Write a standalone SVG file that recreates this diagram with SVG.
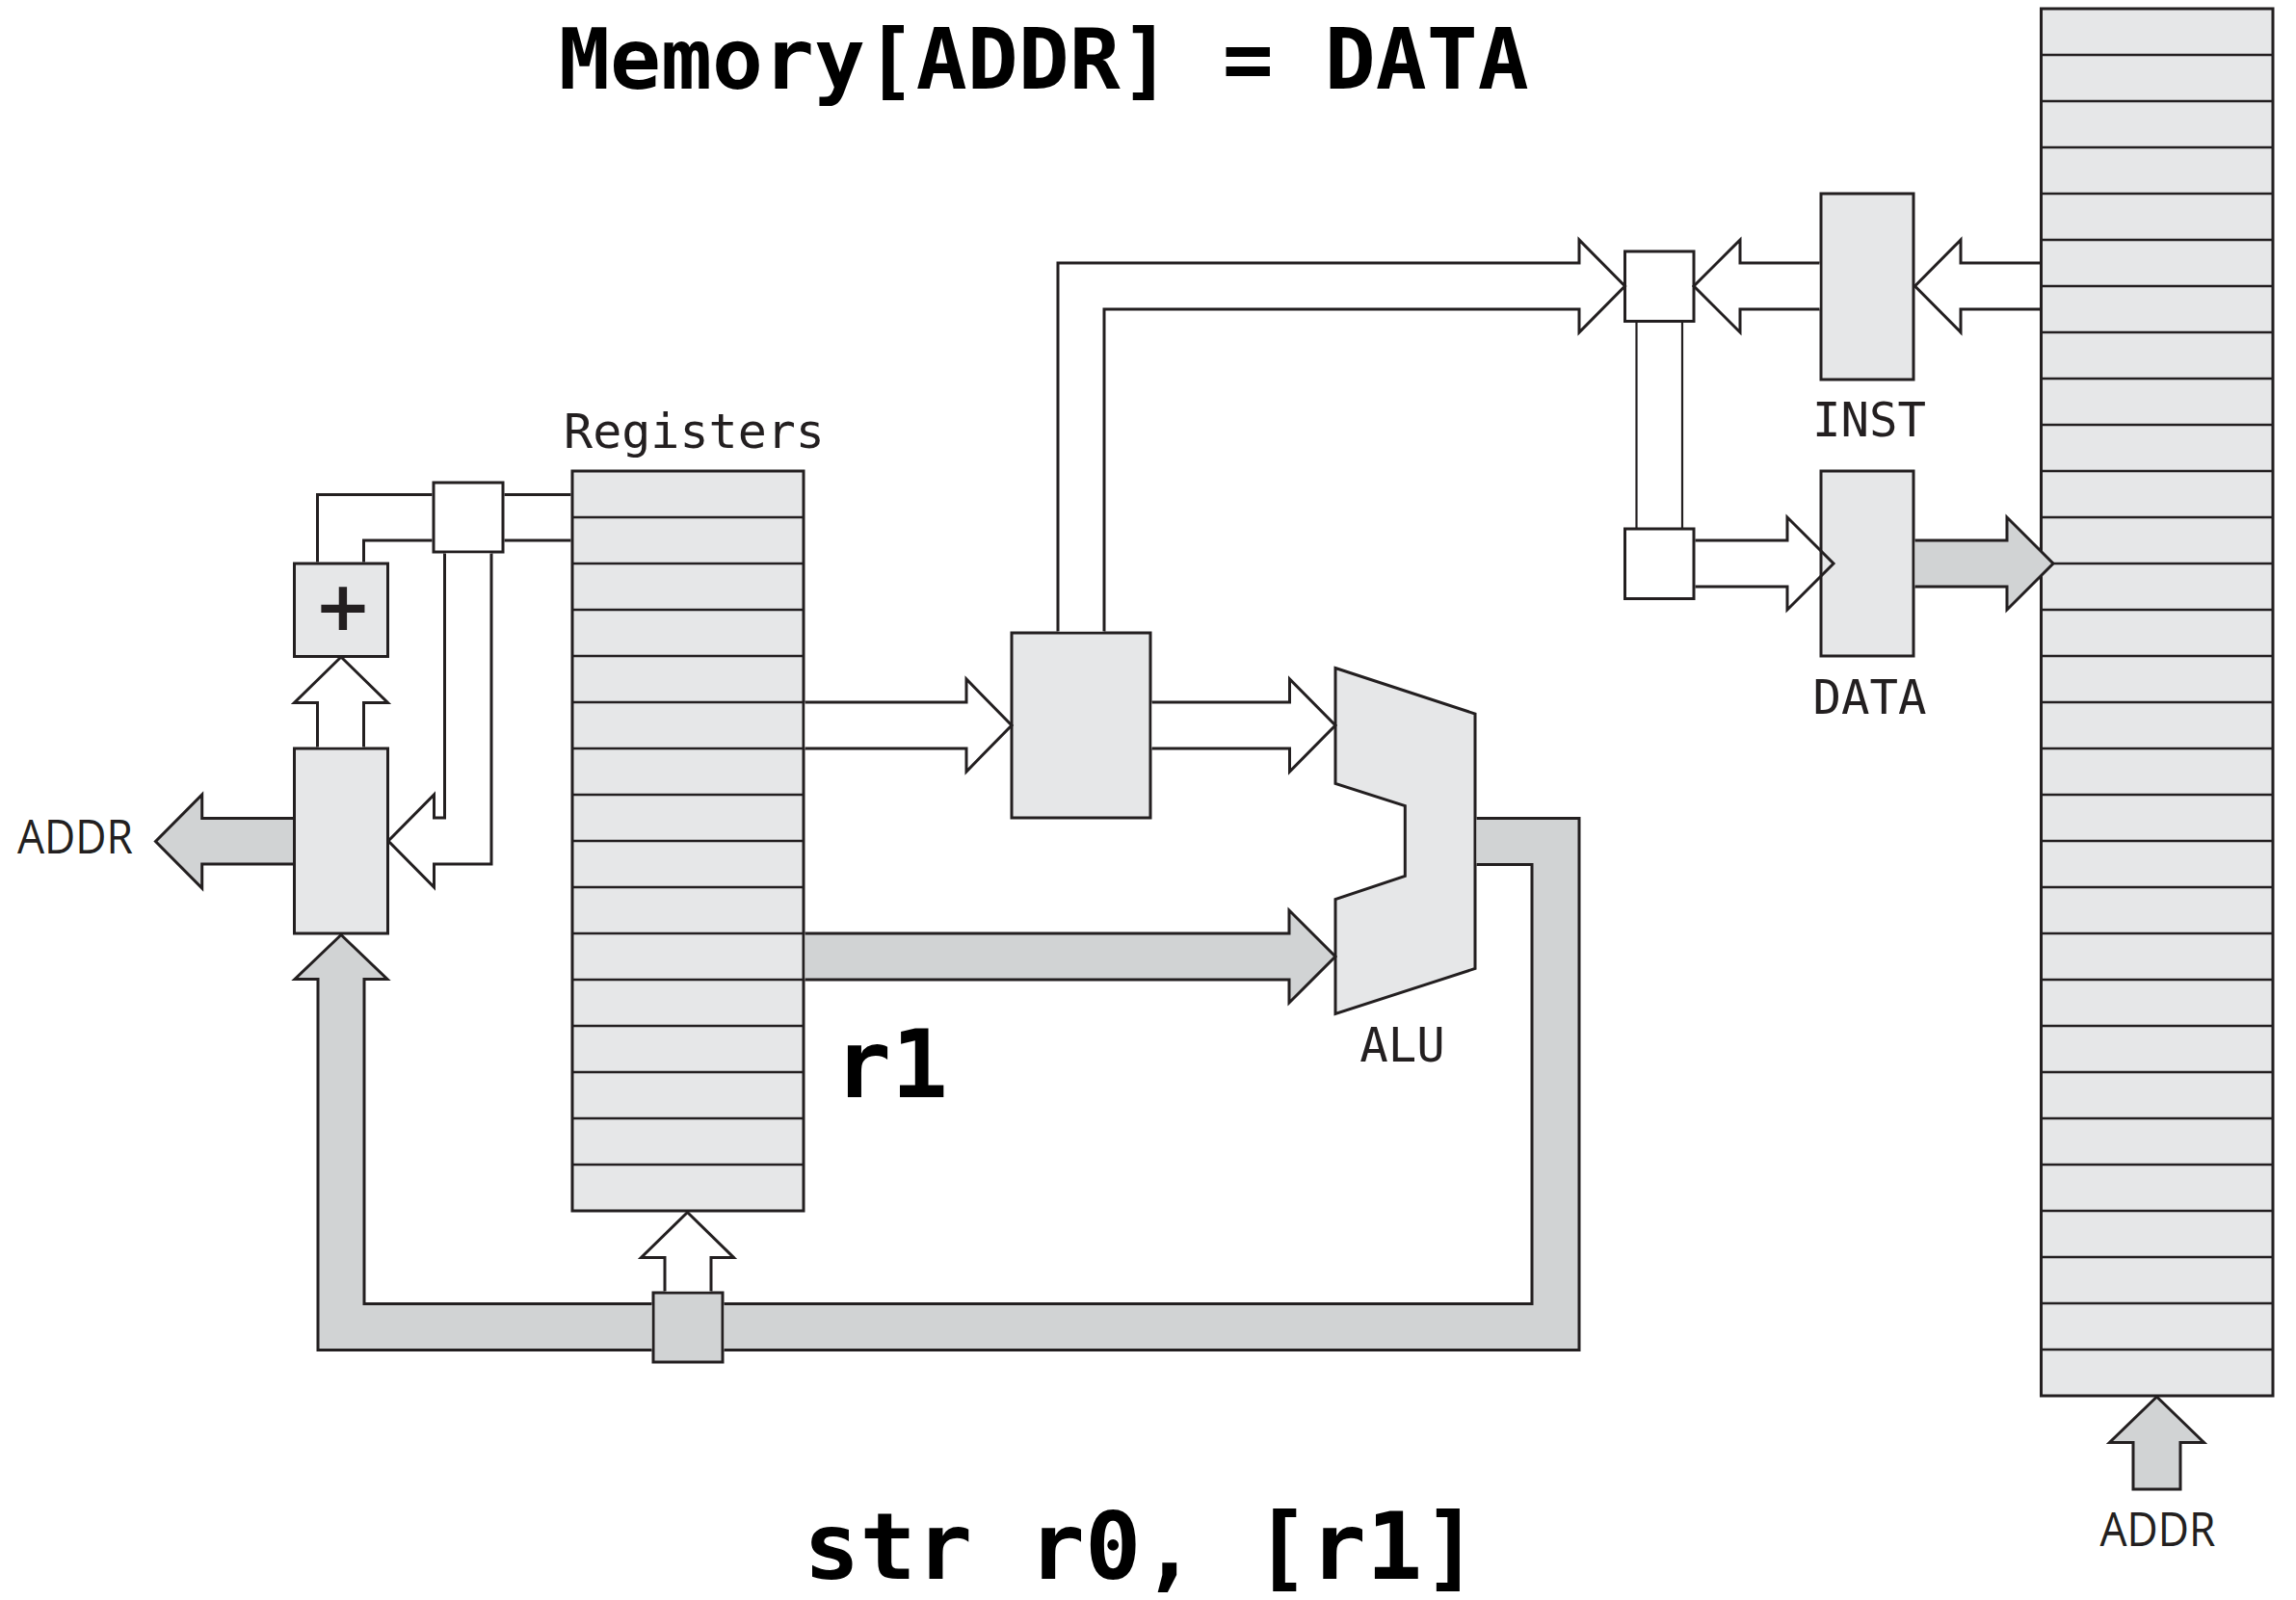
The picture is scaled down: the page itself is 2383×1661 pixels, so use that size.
<svg xmlns="http://www.w3.org/2000/svg" width="2383" height="1661" viewBox="0 0 2383 1661">
<style>
.box{fill:#e6e7e8;stroke:#231f20;stroke-width:3}
.wbox{fill:#ffffff;stroke:#231f20;stroke-width:3}
.gbox{fill:#d1d3d4;stroke:#231f20;stroke-width:3}
.rows{fill:none;stroke:#231f20;stroke-width:2.4}
.wa{fill:#ffffff;stroke:#231f20;stroke-width:3;stroke-linejoin:miter}
.ga{fill:#d1d3d4;stroke:#231f20;stroke-width:3;stroke-linejoin:miter}
.gfill{fill:#d1d3d4;stroke:none}
.ln{fill:none;stroke:#231f20;stroke-width:3;stroke-linejoin:miter}
.thin{fill:none;stroke:#231f20;stroke-width:2.2}
.mono{font-family:"DejaVu Sans Mono","Liberation Mono",monospace;fill:#231f20}
.big{font-family:"DejaVu Sans Mono","Liberation Mono",monospace;font-weight:bold;fill:#000000}
.sans{font-family:"Open Sans","Noto Sans","Liberation Sans",sans-serif;fill:#231f20}
</style>
<rect width="2383" height="1661" fill="#ffffff"/>

<g id="memory">
<rect class="box" x="2118.5" y="9" width="240.5" height="1440"/>
<path class="rows" d="M2118.5 57H2359M2118.5 105H2359M2118.5 153H2359M2118.5 201H2359M2118.5 249H2359M2118.5 297H2359M2118.5 345H2359M2118.5 393H2359M2118.5 441H2359M2118.5 489H2359M2118.5 537H2359M2118.5 585H2359M2118.5 633H2359M2118.5 681H2359M2118.5 729H2359M2118.5 777H2359M2118.5 825H2359M2118.5 873H2359M2118.5 921H2359M2118.5 969H2359M2118.5 1017H2359M2118.5 1065H2359M2118.5 1113H2359M2118.5 1161H2359M2118.5 1209H2359M2118.5 1257H2359M2118.5 1305H2359M2118.5 1353H2359M2118.5 1401H2359"/>
</g>

<g id="registers">
<rect class="box" x="594" y="489" width="240" height="768"/>
<path class="rows" d="M594 537H834M594 585H834M594 633H834M594 681H834M594 729H834M594 777H834M594 825H834M594 873H834M594 921H834M594 969H834M594 1017H834M594 1065H834M594 1113H834M594 1161H834M594 1209H834"/>
<text class="mono" x="720.5" y="465" font-size="50" text-anchor="middle">Registers</text>
</g>

<g id="pc">
<rect class="box" x="305.5" y="777" width="97" height="192"/>
</g>

<g id="adder">
<rect class="box" x="305.5" y="585" width="97" height="96.5"/>
<text x="356" y="654" font-family="DejaVu Sans, sans-serif" font-weight="bold" font-size="72" text-anchor="middle" fill="#231f20">+</text>
</g>

<g id="mux-left">
<rect class="wbox" x="450" y="501" width="72" height="72"/>
</g>

<g id="mux-center">
<rect class="box" x="1050" y="657" width="144" height="192"/>
</g>

<g id="alu">
<polygon class="box" points="1386,693.5 1531,741 1531,1005.5 1386,1052.5 1386,933.5 1458.3,909.5 1458.3,836.5 1386,813.5"/>
<text class="mono" x="1455.5" y="1102" font-size="49" text-anchor="middle">ALU</text>
</g>

<g id="mux-top">
<rect class="wbox" x="1686.5" y="261" width="71.5" height="72.5"/>
</g>

<g id="mux-lower">
<rect class="wbox" x="1686.5" y="549" width="71.5" height="72.5"/>
</g>

<g id="inst">
<rect class="box" x="1890" y="201" width="96" height="193"/>
<text class="mono" x="1940" y="453" font-size="49" text-anchor="middle">INST</text>
</g>

<g id="data">
<rect class="box" x="1890" y="489" width="96" height="192"/>
<text class="mono" x="1940.5" y="741" font-size="49" text-anchor="middle">DATA</text>
</g>

<g id="writeback">
<rect class="gbox" x="678" y="1342" width="72" height="72"/>
</g>

<g id="connectors">
<path class="wa" d="M835.5 729H1003V705L1050 753L1003 801V777H835.5"/>
<path class="wa" d="M1195.5 729H1338.5V705L1386 753L1338.5 801V777H1195.5"/>
<path class="ga" d="M835.5 969H1338V945L1386 993L1338 1041V1017H835.5"/>
<path class="wa" d="M1098 655.5V273H1639V249L1686.5 297L1639 345V321H1146V655.5"/>
<path class="wa" d="M1888.5 273H1806V249L1758 297L1806 345V321H1888.5"/>
<path class="wa" d="M2117 273H2035V249L1987.5 297L2035 345V321H2117"/>
<path class="thin" d="M1698.5 335V549M1746 335V549"/>
<path class="ln" d="M1759.5 561H1855V537L1903 585L1855 633V609H1759.5"/>
<path class="ga" d="M1987.5 561H2083V537L2131 585L2083 633V609H1987.5"/>
<path class="ga" d="M2214 1546V1497.5H2189.5L2238.5 1450L2287.5 1497.5H2263V1546Z"/>
<path class="ga" d="M304 849.5H209.7V825L161.5 873.5L209.7 922V897H304"/>
<path class="wa" d="M329.5 775.5V729.5H305.5L354 682L402.5 729.5H377.5V775.5"/>
<path class="wa" d="M461.5 574.5V849H450.5V825L403 873L450.5 921V897H510V574.5"/>
<path class="ln" d="M592.5 513.5H523.5M592.5 561H523.5"/>
<path class="ln" d="M448.5 513.5H329.5V583.5M448.5 561H377.5V583.5"/>
<path class="gfill" d="M1532.5 849.5H1639V1401.5H751.5V1353.5H1590V897.5H1532.5Z"/>
<path class="ln" d="M1532.5 849.5H1639V1401.5H751.5M751.5 1353.5H1590V897.5H1532.5"/>
<path class="ga" d="M676.5 1353.5H378V1016.5H402L354 970.5L306 1016.5H330V1401.5H676.5"/>
<path class="wa" d="M690 1340.5V1305.5H665.5L713.5 1258.5L761.5 1305.5H738V1340.5"/>
</g>

<g id="labels">
<text class="big" x="580" y="92" font-size="88">Memory[ADDR] = DATA</text>
<text class="big" x="834" y="1639" font-size="97">str r0, [r1]</text>
<text class="big" x="866" y="1139" font-size="98">r1</text>
<text class="sans" x="78" y="886" font-size="50" text-anchor="middle" textLength="120" lengthAdjust="spacingAndGlyphs">ADDR</text>
<text class="sans" x="2239.5" y="1605" font-size="50" text-anchor="middle" textLength="120" lengthAdjust="spacingAndGlyphs">ADDR</text>
</g>
</svg>
